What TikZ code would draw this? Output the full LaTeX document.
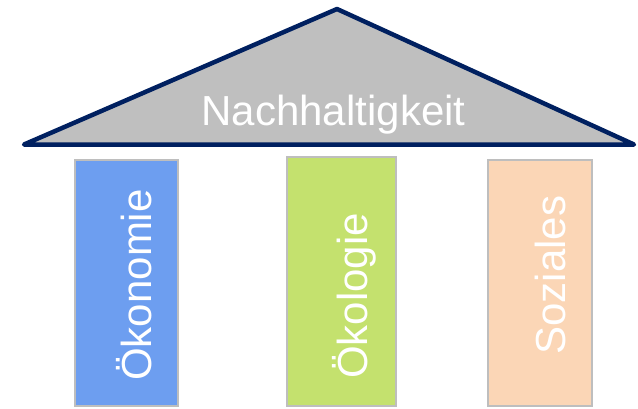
\documentclass[tikz,border=0pt]{standalone}
\usepackage{fontspec}
\setmainfont{Liberation Sans}
\definecolor{roofline}{RGB}{0,32,96}
\definecolor{roofgray}{RGB}{191,191,191}
\definecolor{pillarblue}{RGB}{109,158,240}
\definecolor{pillargreen}{RGB}{196,225,110}
\definecolor{pillarpeach}{RGB}{251,214,182}
\definecolor{pillarline}{RGB}{190,190,190}
\begin{document}
\begin{tikzpicture}[x=1pt, y=-1pt,
    pillar/.style={draw=pillarline, line width=1.5pt},
    label/.style={text=white, font=\fontsize{42}{42}\selectfont, inner sep=0pt}]
    \useasboundingbox (0,0) rectangle (638,408);

    % Roof
    \coordinate (roofL) at (24,144.5);
    \coordinate (roofTop) at (337,9);
    \coordinate (roofR) at (634,144.5);
    \draw[fill=roofgray, draw=roofline, line width=4.5pt, line join=round]
        (roofL) -- (roofTop) -- (roofR) -- cycle;
    \node[label, anchor=base] (roof) at (333.5,125) {Nachhaltigkeit};

    % Pillars
    \filldraw[pillar, fill=pillarblue] (75,160) rectangle (178,406);
    \filldraw[pillar, fill=pillargreen] (287,157) rectangle (396,406);
    \filldraw[pillar, fill=pillarpeach] (488,160) rectangle (592,406);

    % Pillar labels
    \node[label, rotate=90, anchor=base] (oekonomie) at (151,285) {Ökonomie};
    \node[label, rotate=90, anchor=base] (oekologie) at (367,296) {Ökologie};
    \node[label, rotate=90, anchor=base] (soziales) at (565,275) {Soziales};
\end{tikzpicture}
\end{document}
